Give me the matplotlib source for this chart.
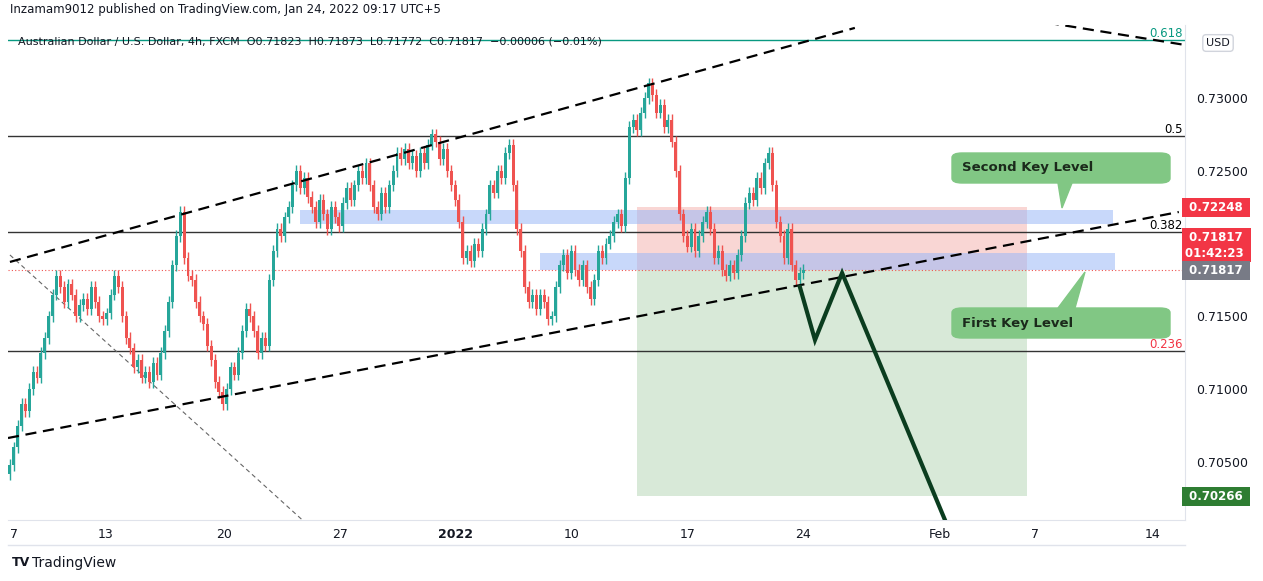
import numpy as np
import matplotlib.pyplot as plt
from matplotlib.patches import Rectangle, FancyBboxPatch, Polygon

# ---------------- data ----------------
closes = [
    0.7048, 0.7060, 0.7075, 0.7090, 0.7085, 0.7100, 0.7112, 0.7108, 0.7125, 0.7135, 0.7150, 0.7165, 0.7178, 0.7170, 0.7160,
    0.7172, 0.7165, 0.7150, 0.7158, 0.7162, 0.7155, 0.7170, 0.7160, 0.7150, 0.7148, 0.7152, 0.7165, 0.7178, 0.7170,
    0.7150, 0.7135, 0.7128, 0.7115, 0.7120, 0.7108, 0.7112, 0.7105, 0.7118, 0.7110, 0.7125, 0.7140, 0.7160,
    0.7185, 0.7205, 0.7222, 0.7190, 0.7178, 0.7175, 0.7160, 0.7150, 0.7145, 0.7130, 0.7120, 0.7105, 0.7098, 0.7090, 0.7100,
    0.7115, 0.7110, 0.7125, 0.7140, 0.7155, 0.7150, 0.7140, 0.7125, 0.7135, 0.7130, 0.7175, 0.7195, 0.7210, 0.7205,
    0.7218, 0.7225, 0.7240, 0.7250, 0.7238, 0.7245, 0.7232, 0.7225, 0.7215, 0.7230, 0.7220, 0.7210, 0.7225, 0.7218, 0.7212, 0.7228,
    0.7238, 0.7230, 0.7240, 0.7250, 0.7245, 0.7255, 0.7240, 0.7225, 0.7220, 0.7235, 0.7225, 0.7240, 0.7250, 0.7262, 0.7258, 0.7265,
    0.7255, 0.7260, 0.7250, 0.7262, 0.7255, 0.7268, 0.7275, 0.7270, 0.7258, 0.7265, 0.7250, 0.7240, 0.7230, 0.7215, 0.7190, 0.7195, 0.7188,
    0.7200, 0.7195, 0.7210, 0.7220, 0.7240, 0.7235, 0.7250, 0.7245, 0.7262, 0.7268, 0.7240, 0.7210, 0.7195, 0.7170, 0.7160, 0.7165,
    0.7155, 0.7165, 0.7160, 0.7148, 0.7150, 0.7170, 0.7185, 0.7192, 0.7180, 0.7195, 0.7182, 0.7175, 0.7185, 0.7170, 0.7162, 0.7175,
    0.7195, 0.7190, 0.7200, 0.7205,
    0.7215, 0.7220, 0.7212, 0.7245, 0.7280, 0.7285, 0.7278, 0.7290, 0.7300, 0.7310, 0.7302, 0.7290, 0.7295, 0.7280, 0.7285, 0.7270,
    0.7250, 0.7220,
    0.7205, 0.7198, 0.7210, 0.7195, 0.7205, 0.7215, 0.7222, 0.7210, 0.7190, 0.7195, 0.7182, 0.7178, 0.7185, 0.7180, 0.7192, 0.7205, 0.7228,
    0.7235, 0.7230, 0.7245, 0.7238, 0.7255, 0.7262, 0.7240, 0.7215, 0.7205, 0.7190, 0.7210, 0.7185, 0.7175, 0.7180, 0.7182,
]
first_open = 0.7042
wick = 0.0004

tick_pos = [1.0, 24.8, 55.3, 85.3, 115.2, 145.0, 175.2, 204.9, 240.3, 264.9, 295.1]
tick_lab = ["7", "13", "20", "27", "2022", "10", "17", "24", "Feb", "7", "14"]
price_ticks = [0.705, 0.710, 0.715, 0.725, 0.730]

fib_levels = {"0.618": 0.73398, "0.5": 0.72739, "0.382": 0.72080, "0.236": 0.71262}
upper_channel = ([0, 218.3], [0.71874, 0.73481])
lower_channel = ([-0.5, 302.0], [0.70665, 0.72217])
top_right_line = ([263.6, 303.6], [0.73536, 0.73364])
gray_line = ([0, 82.7], [0.71922, 0.6993])
zigzag = ([204.1, 208.0, 215.0, 241.6], [0.71702, 0.71338, 0.71798, 0.70101])

entry, stop, target = 0.71817, 0.72248, 0.70266
box_x = (162.0, 262.8)
band1 = (74.9, 285.0, 0.72135, 0.72231)
band2 = (137.0, 285.5, 0.71819, 0.71935)

# ---------------- figure ----------------
W, H = 1263, 581
fig = plt.figure(figsize=(W / 100, H / 100), dpi=100)
ax = fig.add_axes([8 / W, 61 / H, 1177 / W, 495 / H])
ax.set_xlim(-0.5, 303.6)
ax.set_ylim(0.70102, 0.73501)

up, dn = "#26a69a", "#ef5350"
opens = [first_open] + closes[:-1]
for i, (o, c) in enumerate(zip(opens, closes)):
    col = up if c >= o else dn
    ax.vlines(i, min(o, c) - wick, max(o, c) + wick, color=col, lw=1, zorder=3)
    ax.add_patch(Rectangle((i - 0.38, min(o, c)), 0.76, max(abs(c - o), 0.00003),
                           color=col, zorder=4, lw=0))

# position box
ax.add_patch(Rectangle((box_x[0], entry), box_x[1] - box_x[0], stop - entry,
                       color="#f7c5c3", alpha=0.7, lw=0, zorder=1))
ax.add_patch(Rectangle((box_x[0], target), box_x[1] - box_x[0], entry - target,
                       color="#d4e7d4", alpha=0.9, lw=0, zorder=1))
for b in (band1, band2):
    ax.add_patch(Rectangle((b[0], b[2]), b[1] - b[0], b[3] - b[2],
                           color="#9bb8f7", alpha=0.55, lw=0, zorder=2))

for name, v in fib_levels.items():
    col = "#089981" if name == "0.618" else ("#f23645" if name == "0.236" else "black")
    lcol = "#089981" if name == "0.618" else "#333333"
    ax.axhline(v, color=lcol, lw=1, zorder=2)
    ax.text(303, v, name, color=col, fontsize=8.5, ha="right", va="bottom")

ax.axhline(entry, color="#ef5350", lw=0.8, ls=(0, (1, 2)), zorder=2)
for ln in (upper_channel, lower_channel, top_right_line):
    ax.plot(*ln, color="black", lw=1.6, ls=(0, (5, 3)), zorder=5)
ax.plot(*gray_line, color="#666666", lw=0.8, ls=(0, (4, 3)), zorder=2)
ax.plot(*zigzag, color="#0b3d1f", lw=3, zorder=6, solid_joinstyle="miter")

# axes styling
ax.set_xticks(tick_pos)
ax.set_xticklabels(tick_lab, fontsize=9, color="#131722")
for t in ax.get_xticklabels():
    if t.get_text() == "2022":
        t.set_fontweight("bold")
ax.yaxis.tick_right()
ax.set_yticks(price_ticks)
ax.set_yticklabels([f"{p:.5f}" for p in price_ticks], fontsize=9, color="#131722")
ax.tick_params(length=0, pad=8)
ax.tick_params(axis="x", pad=6)
for s in ax.spines.values():
    s.set_visible(False)
ax.spines["right"].set_visible(True)
ax.spines["right"].set_color("#e0e3eb")
ax.spines["bottom"].set_visible(True)
ax.spines["bottom"].set_color("#e0e3eb")
fig.add_artist(plt.Line2D([8 / W, 1185 / W], [1 - 545 / H] * 2, color="#e0e3eb", lw=1))

# price tags
def tag(y, txt, col):
    ax.text(1.0, y, " " + txt + " ", transform=ax.get_yaxis_transform(), fontsize=8.5,
            color="white", fontweight="bold", ha="left", va="center", linespacing=1.3,
            bbox=dict(boxstyle="square,pad=0.25", fc=col, ec="none"))

tag(stop, "0.72248", "#f23645")
tag(0.71990, "0.71817\n01:42:23", "#f23645")
tag(entry, "0.71817", "#787b86")
tag(target, "0.70266", "#2e7d32")

# callouts (figure pixel coords)
def fp(x, y):
    return (x / W, 1 - y / H)

for (x0, y0, txt, tip) in [(952, 153, "Second Key Level", (1062, 208)),
                           (952, 308, "First Key Level", (1085, 272))]:
    fig.add_artist(FancyBboxPatch(fp(x0, y0 + 30), 218 / W, 30 / H,
                                  boxstyle="round,pad=0,rounding_size=0.008",
                                  transform=fig.transFigure, fc="#81c784", ec="#81c784"))
    if tip[1] > y0:
        pts = [fp(1058, y0 + 30), fp(1072, y0 + 30), fp(*tip)]
    else:
        pts = [fp(1058, y0), fp(1075, y0), fp(*tip)]
    fig.add_artist(Polygon(pts, closed=True, transform=fig.transFigure, fc="#81c784", ec="#81c784"))
    fig.text(fp(x0 + 10, 0)[0], fp(0, y0 + 15)[1], txt, fontsize=9.5, fontweight="bold",
             color="#1b2a1b", va="center")

# header and footer
fig.text(10 / W, 1 - 10 / H, "Inzamam9012 published on TradingView.com, Jan 24, 2022 09:17 UTC+5",
         fontsize=8.5, color="#131722", va="center")
fig.text(18 / W, 1 - 42 / H, "Australian Dollar / U.S. Dollar, 4h, FXCM  O0.71823  H0.71873  L0.71772  C0.71817  −0.00006 (−0.01%)",
         fontsize=8, color="#131722", va="center")
fig.text(1218 / W, 1 - 43 / H, "USD", fontsize=8, color="#131722", ha="center", va="center",
         bbox=dict(boxstyle="round,pad=0.3", fc="white", ec="#d1d4dc"))
fig.text(12 / W, 1 - 563 / H, "TV", fontsize=9, fontweight="bold", color="#131722", va="center")
fig.text(32 / W, 1 - 563 / H, "TradingView", fontsize=10, color="#131722", va="center")

fig.savefig("out.png", dpi=100)
